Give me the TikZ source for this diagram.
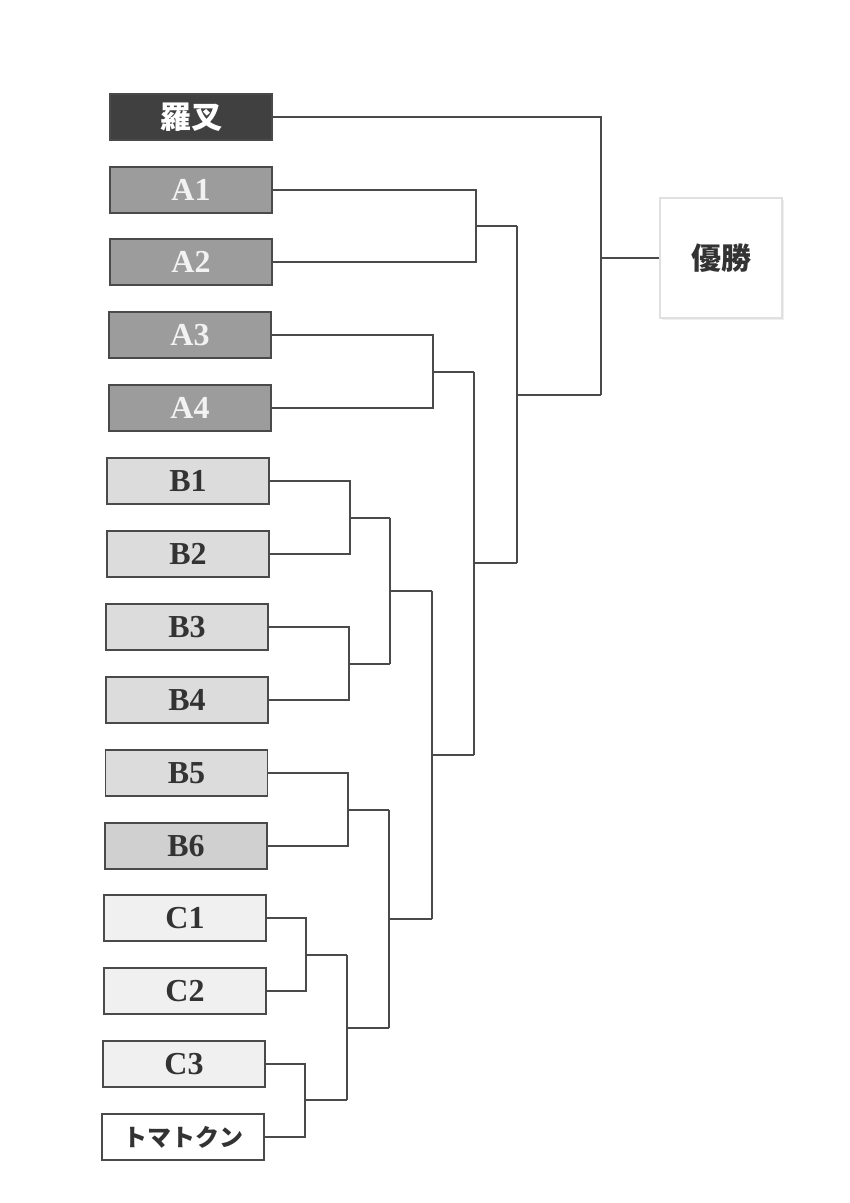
\documentclass[tikz,border=0pt]{standalone}
\usepackage{fontspec}
\setmainfont{Liberation Serif}
\newfontfamily\cjk{Noto Sans CJK JP}
\usetikzlibrary{shadows}
\definecolor{lc}{HTML}{4A4A4A}
\definecolor{dk}{HTML}{404040}
\definecolor{agray}{HTML}{9C9C9C}
\definecolor{bgray}{HTML}{DCDCDC}
\definecolor{bgrayd}{HTML}{D0D0D0}
\definecolor{cgray}{HTML}{F0F0F0}
\definecolor{txt}{HTML}{333333}
\begin{document}
\begin{tikzpicture}[x=1pt,y=-1pt,
  team/.style={draw=lc, line width=1.2pt, minimum width=162pt, minimum height=46pt, inner sep=0pt,
    font=\fontsize{32}{32}\selectfont\bfseries, text=txt},
  darkteam/.style={team, fill=dk, text=white},
  ateam/.style={team, fill=agray, text=white!95!black},
  bteam/.style={team, fill=bgray},
  cteam/.style={team, fill=cgray},
  link/.style={draw=lc, line width=1.2pt},
  winbox/.style={draw=black!12, line width=1.5pt, fill=white, minimum width=122pt, minimum height=120pt,
    drop shadow={opacity=0.12, shadow xshift=2pt, shadow yshift=-2pt}, font=\cjk\bfseries\fontsize{30}{30}\selectfont, text=txt}]
\useasboundingbox (0,0) rectangle (850,1203);
\fill[white] (0,0) rectangle (850,1203);
% teams
\node[darkteam, font=\cjk\bfseries\fontsize{31}{31}\selectfont] (R) at (191,117) {羅叉};
\node[ateam] (A1) at (191,190) {A1};
\node[ateam] (A2) at (191,262) {A2};
\node[ateam] (A3) at (190,335) {A3};
\node[ateam] (A4) at (190,408) {A4};
\node[bteam] (B1) at (188,481) {B1};
\node[bteam] (B2) at (188,554) {B2};
\node[bteam] (B3) at (187,627) {B3};
\node[bteam] (B4) at (187,700) {B4};
\node[bteam] (B5) at (186.5,773) {B5};
\node[team, fill=bgrayd] (B6) at (186,846) {B6};
\node[cteam] (C1) at (185,918) {C1};
\node[cteam] (C2) at (185,991) {C2};
\node[cteam] (C3) at (184,1064) {C3};
\node[team, fill=white, font=\cjk\bfseries\fontsize{24}{24}\selectfont] (T) at (183,1137) {トマトクン};
\node[winbox] (W) at (721,258) {優勝};
% level-1 joins
\coordinate (vA12) at (476,226); \coordinate (oA12) at (517,226);
\coordinate (vA34) at (433,372); \coordinate (oA34) at (474,372);
\coordinate (vB12) at (350,518); \coordinate (oB12) at (390,518);
\coordinate (vB34) at (349,664); \coordinate (oB34) at (390,664);
\coordinate (vB56) at (348,810); \coordinate (oB56) at (389,810);
\coordinate (vC12) at (306,955); \coordinate (oC12) at (347,955);
\coordinate (vC3T) at (305,1100); \coordinate (oC3T) at (347,1100);
\draw[link] (A1.east) -| (vA12) |- (A2.east); \draw[link] (vA12) -- (oA12);
\draw[link] (A3.east) -| (vA34) |- (A4.east); \draw[link] (vA34) -- (oA34);
\draw[link] (B1.east) -| (vB12) |- (B2.east); \draw[link] (vB12) -- (oB12);
\draw[link] (B3.east) -| (vB34) |- (B4.east); \draw[link] (vB34) -- (oB34);
\draw[link] (B5.east) -| (vB56) |- (B6.east); \draw[link] (vB56) -- (oB56);
\draw[link] (C1.east) -| (vC12) |- (C2.east); \draw[link] (vC12) -- (oC12);
\draw[link] (C3.east) -| (vC3T) |- (T.east); \draw[link] (vC3T) -- (oC3T);
% level 2
\coordinate (vB14) at (390,591); \coordinate (oB14) at (432,591);
\draw[link] (oB12) -- (oB34); \draw[link] (vB14) -- (oB14);
\coordinate (vCC) at (347,1028); \coordinate (oCC) at (389,1028);
\draw[link] (oC12) -- (oC3T); \draw[link] (vCC) -- (oCC);
% level 3
\coordinate (vB5C) at (389,919); \coordinate (oB5C) at (432,919);
\draw[link] (oB56) -- (oCC); \draw[link] (vB5C) -- (oB5C);
% level 4
\coordinate (vB) at (432,755); \coordinate (oB) at (474,755);
\draw[link] (oB14) -- (oB5C); \draw[link] (vB) -- (oB);
% level 5
\coordinate (vA3B) at (474,563); \coordinate (oA3B) at (517,563);
\draw[link] (oA34) -- (oB); \draw[link] (vA3B) -- (oA3B);
% level 6
\coordinate (vA) at (517,395); \coordinate (oA) at (601,395);
\draw[link] (oA12) -- (oA3B); \draw[link] (vA) -- (oA);
% final
\coordinate (vF) at (601,258);
\draw[link] (R.east) -| (oA);
\draw[link] (vF) -- (W.west);
\end{tikzpicture}
\end{document}
